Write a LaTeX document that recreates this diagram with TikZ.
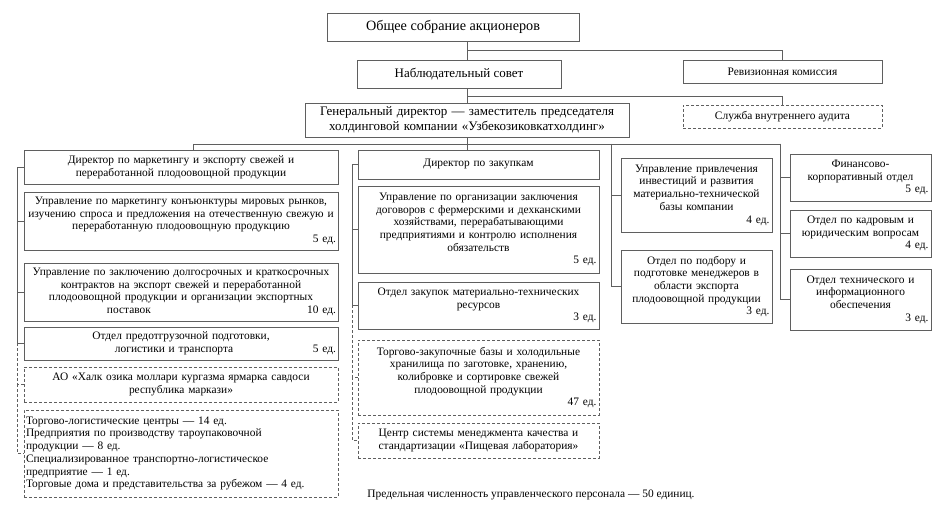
\documentclass[tikz,border=0pt]{standalone}
\usepackage{fontspec}
\setmainfont{Liberation Serif}
\usetikzlibrary{positioning,calc}
\definecolor{framegray}{RGB}{95,95,95}

\begin{document}
\begin{tikzpicture}[x=1pt, y=-1pt, >=latex]
    \tikzstyle{box} = [draw=framegray, line width=0.8pt, inner xsep=2pt, inner ysep=2pt, align=center, font=\fontsize{11.4}{12.7}\selectfont]
    \tikzstyle{topbox} = [box, font=\fontsize{13}{15}\selectfont]
    \tikzstyle{leftcol} = [box, minimum width=314pt, text width=310pt]
    \tikzstyle{midcol} = [box, minimum width=241pt, text width=236pt]
    \tikzstyle{invcol} = [box, minimum width=151pt, text width=146pt]
    \tikzstyle{sidecol} = [box, minimum width=141pt, text width=136pt]
    \tikzstyle{auditbox} = [box, minimum width=199pt, minimum height=23pt]
    \tikzstyle{link} = [draw=framegray, line width=0.8pt]

    \useasboundingbox (0,0) rectangle (943,518);

    \node [topbox, font=\fontsize{14.2}{16}\selectfont, minimum width=252pt, minimum height=28pt] (gsa) at (453,27) {Общее собрание акционеров};
    \node [topbox, minimum width=204pt, minimum height=28pt] (ns) at (459,74) {Наблюдательный совет};
    \node [topbox, text width=320pt, minimum height=34pt] (gd) at (467,120) {Генеральный директор — заместитель председателя\\холдинговой компании «Узбекозиковкатхолдинг»};
    \node [auditbox] (rev) at (782.5,71.5) {Ревизионная комиссия};
    \node [auditbox, densely dashed] (audit) at (782.5,116.5) {Служба внутреннего аудита};

    \node [leftcol, minimum height=34pt] (dirmkt) at (181,167) {Директор по маркетингу и экспорту свежей и\\переработанной плодоовощной продукции};
    \node [leftcol, minimum height=58pt] (mk1) at (181,221) {Управление по маркетингу конъюнктуры мировых рынков,\\изучению спроса и предложения на отечественную свежую и\\переработанную плодоовощную продукцию\\\mbox{}\hfill 5 ед.};
    \node [leftcol, minimum height=58pt] (mk2) at (181,292) {Управление по заключению долгосрочных и краткосрочных\\контрактов на экспорт свежей и переработанной\\плодоовощной продукции и организации экспортных\\\hspace*{81pt}поставок\hfill 10 ед.};
    \node [leftcol, minimum height=33pt] (mk3) at (181,343.5) {Отдел предотгрузочной подготовки,\\\hspace*{89pt}логистики и транспорта\hfill 5 ед.};
    \node [leftcol, densely dashed, minimum height=35pt] (ao) at (181,384.5) {АО «Халк озика моллари кургазма ярмарка савдоси\\республика маркази»};
    \node [leftcol, densely dashed, align=left, minimum height=87pt] (units) at (181,453.5) {Торгово-логистические центры — 14 ед.\\Предприятия по производству тароупаковочной\\продукции — 8 ед.\\Специализированное транспортно-логистическое\\предприятие — 1 ед.\\Торговые дома и представительства за рубежом — 4 ед.};

    \node [midcol, minimum height=29pt] (dirbuy) at (478.5,164.5) {Директор по закупкам};
    \node [midcol, minimum height=87pt] (buy1) at (478.5,229.5) {Управление по организации заключения\\договоров с фермерскими и дехканскими\\хозяйствами, перерабатывающими\\предприятиями и контролю исполнения\\обязательств\\\mbox{}\hfill 5 ед.};
    \node [midcol, minimum height=47pt] (buy2) at (478.5,305.5) {Отдел закупок материально-технических\\ресурсов\\\mbox{}\hfill 3 ед.};
    \node [midcol, densely dashed, minimum height=75pt] (bases) at (478.5,377.5) {Торгово-закупочные базы и холодильные\\хранилища по заготовке, хранению,\\колибровке и сортировке свежей\\плодоовощной продукции\\\mbox{}\hfill 47 ед.};
    \node [midcol, densely dashed, minimum height=35pt] (lab) at (478.5,440.5) {Центр системы менеджмента качества и\\стандартизации «Пищевая лаборатория»};

    \node [invcol, minimum height=74pt] (inv) at (696.5,195) {Управление привлечения\\инвестиций и развития\\материально-технической\\базы компании\\\mbox{}\hfill 4 ед.};
    \node [invcol, minimum height=73pt] (sel) at (696.5,286.5) {Отдел по подбору и\\подготовке менеджеров в\\области экспорта\\плодоовощной продукции\\\mbox{}\hfill 3 ед.};

    \node [sidecol, minimum height=47pt] (fin) at (860.5,177.5) {Финансово-\\корпоративный отдел\\\mbox{}\hfill 5 ед.};
    \node [sidecol, minimum height=47pt] (hr) at (860.5,233.5) {Отдел по кадровым и\\юридическим вопросам\\\mbox{}\hfill 4 ед.};
    \node [sidecol, minimum height=61pt] (itd) at (860.5,299.5) {Отдел технического и\\информационного\\обеспечения\\\mbox{}\hfill 3 ед.};

    \node [font=\fontsize{11.4}{12.7}\selectfont] (note) at (531,495) {Предельная численность управленческого персонала — 50 единиц.};

    \coordinate (j1) at (467,50);
    \coordinate (j2) at (467,96);
    \coordinate (busL) at (193,144);
    \coordinate (busR) at (780,144);
    \coordinate (b3) at (611,144);
    \coordinate (r1) at (17,0);
    \coordinate (r2) at (352,0);

    \draw [link] (gsa.south -| gd.north) -- (ns.north -| gd.north);
    \draw [link] (j1) -| (rev.north);
    \draw [link] (ns.south -| gd.north) -- (gd.north);
    \draw [link] (j2) -| (audit.north);
    \draw [link] (gd.south) -- (gd.south |- dirbuy.north);
    \draw [link] (busL) -- (busR);
    \draw [link] (busL) -- (busL |- dirmkt.north);
    \draw [link] (b3) |- (inv.west);
    \draw [link] (b3) |- (sel.west);
    \draw [link] (busR) |- (fin.west);
    \draw [link] (busR) |- (hr.west);
    \draw [link] (busR) |- (itd.west);

    \draw [link] (dirmkt.west) -- (r1 |- dirmkt.west) |- (mk1.west);
    \draw [link] (r1 |- mk1.west) |- (mk2.west);
    \draw [link] (r1 |- mk2.west) |- (mk3.west);
    \draw [link, densely dashed] (r1 |- mk3.west) |- (ao.west);
    \draw [link, densely dashed] (r1 |- ao.west) |- (units.west);

    \draw [link] (dirbuy.west) -- (r2 |- dirbuy.west) |- (buy1.west);
    \draw [link] (r2 |- buy1.west) |- (buy2.west);
    \draw [link, densely dashed] (r2 |- buy2.west) |- (bases.west);
    \draw [link, densely dashed] (r2 |- bases.west) |- (lab.west);
\end{tikzpicture}
\end{document}
